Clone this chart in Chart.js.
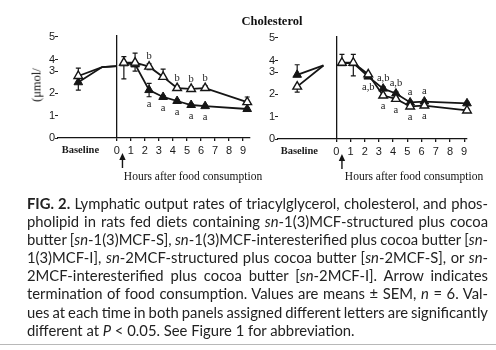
<!DOCTYPE html>
<html>
<head>
<meta charset="utf-8">
<script src="https://cdn.jsdelivr.net/npm/chart.js@4.4.0/dist/chart.umd.min.js"></script>
<style>
  html, body { margin: 0; padding: 0; background: #fff; }
  body { width: 496px; height: 350px; position: relative; overflow: hidden; }
  canvas { position: absolute; top: 0; }
  .lbl { position: absolute; font-family: "Liberation Serif", "Times New Roman", serif; color: #111; white-space: nowrap; transform: translate(-50%, -50%); }
  #caption { position: absolute; left: 27px; top: 194px; width: 461px; font-family: Lato, "Open Sans", sans-serif; font-size: 14.8px; color: #222; }
  #caption div { height: 18.1px; line-height: 18.1px; white-space: nowrap; }
  #rule { position: absolute; left: 0; top: 344px; width: 496px; height: 0; border-top: 1.5px solid #b8b8b8; }
</style>
</head>
<body>
<canvas id="left" width="256" height="172" style="left:0px"></canvas>
<canvas id="right" width="266" height="172" style="left:230px"></canvas>

<div class="lbl" style="left:272px;top:21px;font-weight:bold;font-size:12.5px">Cholesterol</div>
<div class="lbl" style="left:37px;top:85px;font-size:12.5px;transform:translate(-50%,-50%) rotate(-90deg)">(μmol/</div>
<div class="lbl" style="left:193px;top:176px;font-size:11.5px">Hours after food consumption</div>
<div class="lbl" style="left:414px;top:176px;font-size:11.5px">Hours after food consumption</div>

<div id="caption">
  <div class="j"><b>FIG. 2.</b> Lymphatic output rates of triacylglycerol, cholesterol, and phos-</div>
  <div class="j">pholipid in rats fed diets containing <i>sn</i>-1(3)MCF-structured plus cocoa</div>
  <div class="j">butter [<i>sn</i>-1(3)MCF-S], <i>sn</i>-1(3)MCF-interesterified plus cocoa butter [<i>sn</i>-</div>
  <div class="j">1(3)MCF-I], <i>sn</i>-2MCF-structured plus cocoa butter [<i>sn</i>-2MCF-S], or <i>sn</i>-</div>
  <div class="j">2MCF-interesterified plus cocoa butter [<i>sn</i>-2MCF-I]. Arrow indicates</div>
  <div class="j">termination of food consumption. Values are means ± SEM, <i>n</i> = 6. Val-</div>
  <div class="j">ues at each time in both panels assigned different letters are significantly</div>
  <div>different at <i>P</i> &lt; 0.05. See Figure 1 for abbreviation.</div>
</div>
<div id="rule"></div>

<script>
// axis ticks (the scanned axis puts "4" half way between 3 and 5)
const yTickVals = [0, 1, 2, 3, 3.5, 4.55];
const yTickLabels = ['0', '1', '2', '3', '4', '5'];
const xTickVals = [-2.6, 0, 1, 2, 3, 4, 5, 6, 7, 8, 9];
const xTickLabels = ['Baseline', '0', '1', '2', '3', '4', '5', '6', '7', '8', '9'];
const arrowHour = 0.4;

// left panel: first entry is baseline
const hoursL = [-2.75, 0.5, 1.3, 2.3, 3.3, 4.3, 5.3, 6.3, 9.3];
const filledL = [2.5, 3.35, 3.3, 2.15, 1.84, 1.66, 1.48, 1.43, 1.3];
const filledLUp = [0, 0, 0, 0.3, 0.05, 0.05, 0.05, 0.05, 0.05];
const filledLDown = [0.35, 0.7, 0.3, 0.3, 0.08, 0.05, 0.05, 0.05, 0.05];
const openL = [2.78, 3.38, 3.38, 3.2, 2.74, 2.24, 2.2, 2.24, 1.61];
const openLUp = [0.35, 0.27, 0.43, 0.13, 0.35, 0.1, 0.1, 0.1, 0.23];
const openLDown = [0, 0, 0, 0.13, 0, 0, 0, 0, 0];
const bridgeXL = [-1.05, 0];
const bridgeYL = [3.18, 3.22];
const lettersAboveL = ['', '', '', 'b', '', 'b', 'b', 'b', ''];
const lettersBelowL = ['', '', '', 'a', 'a', 'a', 'a', 'a', ''];

// right panel
const hoursR = [-2.75, 0.4, 1.2, 2.25, 3.3, 4.2, 5.2, 6.2, 9.2];
const filledR = [2.88, 3.4, 3.4, 2.8, 2.26, 2.04, 1.64, 1.68, 1.6];
const filledRUp = [0.45, 0, 0, 0.08, 0.08, 0.08, 0.06, 0.06, 0.06];
const filledRDown = [0, 0, 0, 0.08, 0.08, 0.08, 0.06, 0.06, 0.06];
const openR = [2.35, 3.42, 3.42, 2.9, 1.95, 1.8, 1.46, 1.5, 1.28];
const openRUp = [0, 0.38, 0.38, 0, 0.06, 0.06, 0.06, 0.06, 0.06];
const openRDown = [0.25, 0, 0.59, 0, 0.06, 0.06, 0.06, 0.06, 0.06];
const bridgeXR = [-0.9];
const bridgeYR = [3.3];
const lettersAboveR = ['', '', '', '', 'a,b', 'a,b', 'a', 'a', ''];
const lettersBelowR = ['', '', '', 'a,b', 'a', 'a', 'a', 'a', ''];

const INK = '#151515';

function buildPoints(xs, ys, bx, by) {
    var pts = [{x: xs[0], y: ys[0]}];
    var radii = [5];
    bx.forEach(function (x, i) { pts.push({x: x, y: by[i]}); radii.push(0); });
    pts.push({x: (bx[bx.length - 1] + xs[1]) / 2, y: null});
    radii.push(0);
    for (var i = 1; i < xs.length; i++) {
        pts.push({x: xs[i], y: ys[i]});
        radii.push(5);
    }
    return {pts: pts, radii: radii};
}

function makePanel(id, p) {
    var filled = buildPoints(p.xs, p.filled, p.bx, p.by);
    var open = buildPoints(p.xs, p.open, p.bx, p.by);

    var marksPlugin = {
        id: 'marks_' + id,
        beforeDatasetsDraw: function (chart) {
            var ctx = chart.ctx, xs = chart.scales.x, ys = chart.scales.y;
            ctx.save();
            ctx.strokeStyle = INK;
            ctx.lineWidth = 1.2;
            [[p.filled, p.filledUp, p.filledDown], [p.open, p.openUp, p.openDown]].forEach(function (s) {
                p.xs.forEach(function (h, i) {
                    var x = xs.getPixelForValue(h);
                    var y0 = ys.getPixelForValue(s[0][i] + s[1][i]);
                    var y1 = ys.getPixelForValue(s[0][i] - s[2][i]);
                    if (y1 - y0 < 1) return;
                    ctx.beginPath();
                    ctx.moveTo(x, y0); ctx.lineTo(x, y1);
                    if (s[1][i] > 0) { ctx.moveTo(x - 2.5, y0); ctx.lineTo(x + 2.5, y0); }
                    if (s[2][i] > 0) { ctx.moveTo(x - 2.5, y1); ctx.lineTo(x + 2.5, y1); }
                    ctx.stroke();
                });
            });
            ctx.restore();
        },
        afterDatasetsDraw: function (chart) {
            var ctx = chart.ctx, xs = chart.scales.x, ys = chart.scales.y;
            ctx.save();
            ctx.fillStyle = '#222';
            ctx.font = '10.5px "Liberation Serif", serif';
            ctx.textAlign = 'center';
            ctx.textBaseline = 'middle';
            p.xs.forEach(function (h, i) {
                var x = xs.getPixelForValue(h);
                if (p.above[i]) {
                    var hi = Math.max(p.filled[i], p.open[i]);
                    var top = Math.min(
                        ys.getPixelForValue(p.filled[i] + p.filledUp[i]),
                        ys.getPixelForValue(p.open[i] + p.openUp[i]),
                        ys.getPixelForValue(hi) - 4);
                    ctx.fillText(p.above[i], x, top - 6);
                }
                if (p.below[i]) {
                    var lo = Math.min(p.filled[i], p.open[i]);
                    var bot = Math.max(
                        ys.getPixelForValue(p.filled[i] - p.filledDown[i]),
                        ys.getPixelForValue(p.open[i] - p.openDown[i]),
                        ys.getPixelForValue(lo) + 4);
                    ctx.fillText(p.below[i], x, bot + 7);
                }
            });
            // arrow marking end of food consumption
            var ax = xs.getPixelForValue(arrowHour);
            var ay = chart.chartArea.bottom + 15;
            ctx.strokeStyle = INK;
            ctx.fillStyle = INK;
            ctx.lineWidth = 1.4;
            ctx.beginPath();
            ctx.moveTo(ax, ay + 5); ctx.lineTo(ax, ay + 15);
            ctx.stroke();
            ctx.beginPath();
            ctx.moveTo(ax, ay); ctx.lineTo(ax - 3.2, ay + 7); ctx.lineTo(ax + 3.2, ay + 7);
            ctx.closePath();
            ctx.fill();
            ctx.restore();
        }
    };

    return new Chart(document.getElementById(id), {
        type: 'scatter',
        data: {
            datasets: [{
                label: 'open',
                data: open.pts,
                showLine: true,
                borderColor: INK,
                borderWidth: 1.8,
                pointStyle: 'triangle',
                pointRadius: open.radii,
                pointBackgroundColor: '#fff',
                pointBorderColor: INK,
                pointBorderWidth: 1.4,
                clip: false
            }, {
                label: 'filled',
                data: filled.pts,
                showLine: true,
                borderColor: INK,
                borderWidth: 1.8,
                pointStyle: 'triangle',
                pointRadius: filled.radii,
                pointBackgroundColor: INK,
                pointBorderColor: INK,
                pointBorderWidth: 1,
                clip: false
            }]
        },
        options: {
            responsive: false,
            animation: false,
            events: [],
            layout: {autoPadding: false, padding: {top: p.top, right: p.right, left: 0, bottom: 0}},
            plugins: {legend: {display: false}, tooltip: {enabled: false}},
            scales: {
                x: {
                    type: 'linear',
                    min: p.xmin,
                    max: p.xmax,
                    afterBuildTicks: function (scale) {
                        scale.ticks = xTickVals.map(function (v) { return {value: v}; });
                    },
                    afterFit: function (scale) { scale.height = p.xHeight; },
                    border: {display: true, color: INK, width: 1.3},
                    grid: {
                        drawOnChartArea: true,
                        drawTicks: true,
                        tickLength: 3,
                        color: function (c) { return c.tick && c.tick.value === 0 ? INK : 'rgba(0,0,0,0)'; },
                        tickColor: function (c) { return c.tick && c.tick.value < 0 ? 'rgba(0,0,0,0)' : INK; },
                        lineWidth: 1.3
                    },
                    ticks: {
                        autoSkip: false,
                        maxRotation: 0,
                        padding: 3,
                        color: '#1a1a1a',
                        font: function (c) {
                            return c.tick && c.tick.value < 0
                                ? {family: '"Liberation Serif", serif', size: 10.5, weight: 'bold'}
                                : {family: '"Liberation Sans", Arial, sans-serif', size: 11};
                        },
                        callback: function (v) { return xTickLabels[xTickVals.indexOf(v)]; }
                    }
                },
                y: {
                    type: 'linear',
                    min: 0,
                    max: 4.62,
                    afterBuildTicks: function (scale) {
                        scale.ticks = yTickVals.map(function (v) { return {value: v}; });
                    },
                    afterFit: function (scale) { scale.width = p.yWidth; },
                    border: {display: false},
                    grid: {drawOnChartArea: false, drawTicks: true, tickLength: 3, color: '#222', lineWidth: 1},
                    ticks: {
                        padding: 0,
                        color: '#1a1a1a',
                        font: {family: '"Liberation Sans", Arial, sans-serif', size: 11},
                        callback: function (v) { return yTickLabels[yTickVals.indexOf(v)]; }
                    }
                }
            }
        },
        plugins: [marksPlugin]
    });
}

makePanel('left', {
    xs: hoursL, filled: filledL, filledUp: filledLUp, filledDown: filledLDown,
    open: openL, openUp: openLUp, openDown: openLDown,
    bx: bridgeXL, by: bridgeYL, above: lettersAboveL, below: lettersBelowL,
    xmin: -4.2, xmax: 9.5, top: 35, right: 6, xHeight: 34, yWidth: 58
});
makePanel('right', {
    xs: hoursR, filled: filledR, filledUp: filledRUp, filledDown: filledRDown,
    open: openR, openUp: openRUp, openDown: openRDown,
    bx: bridgeXR, by: bridgeYR, above: lettersAboveR, below: lettersBelowR,
    xmin: -4.1, xmax: 9.2, top: 36, right: 29, xHeight: 33, yWidth: 48
});

// justify caption lines by spreading word spacing
document.querySelectorAll('#caption .j').forEach(function (el) {
    var range = document.createRange();
    range.selectNodeContents(el);
    var w = range.getBoundingClientRect().width;
    var gaps = (el.textContent.match(/ /g) || []).length;
    if (gaps) el.style.wordSpacing = ((461 - w) / gaps) + 'px';
});
</script>
</body>
</html>
